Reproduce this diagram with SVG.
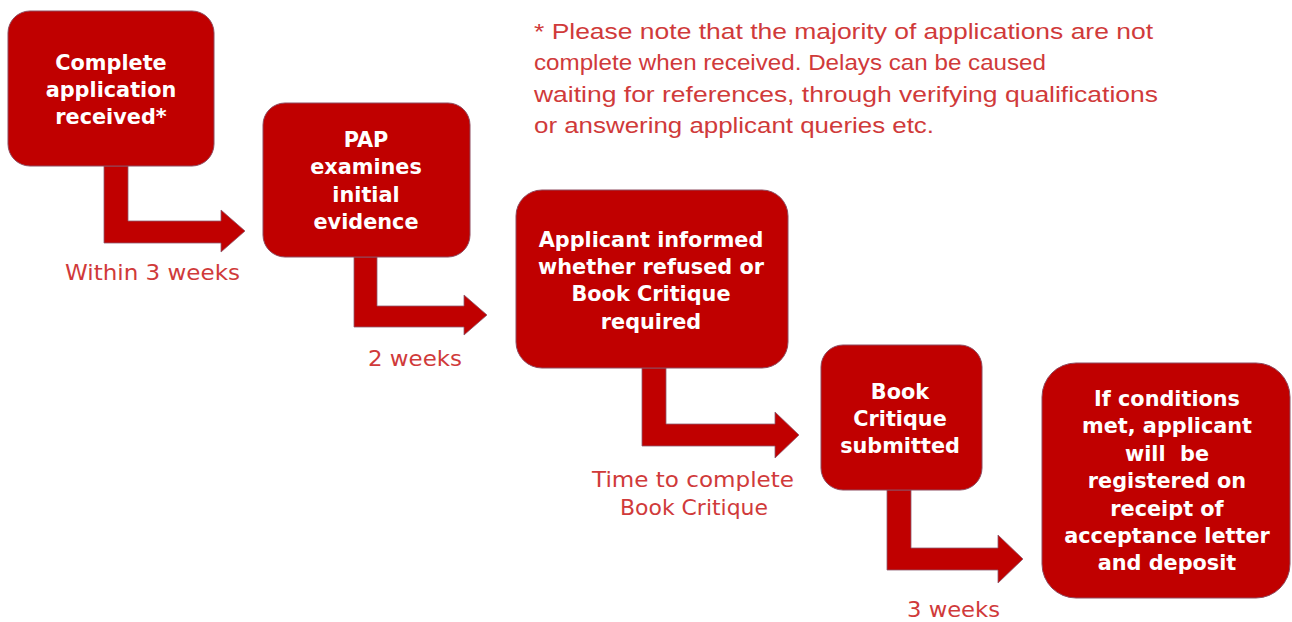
<svg xmlns="http://www.w3.org/2000/svg" width="1292" height="622" viewBox="0 0 1292 622">
<style>
.box{fill:#c00000;stroke:#8e4a5e;stroke-width:1}
.arr{fill:#c00000;stroke:#8e5a6e;stroke-width:0.8}
.bt{font-family:"DejaVu Sans",sans-serif;font-weight:bold;font-size:20.8px;fill:#ffffff;text-anchor:middle;white-space:pre}
.lbl{font-family:"DejaVu Sans",sans-serif;font-size:22px;fill:#d03a3a}
.note{font-family:"Liberation Sans",Arial,sans-serif;font-size:22px;fill:#d03a3a}
</style>
<rect width="1292" height="622" fill="#ffffff"/>
<g id="connectors">
<polygon class="arr" points="104,166 128,166 128,221 221,221 221,210 245,231 221,252 221,243 104,243"/>
<polygon class="arr" points="354,257 377,257 377,306 464,306 464,295 487,315 464,335 464,327 354,327"/>
<polygon class="arr" points="642,368 666,368 666,424 775,424 775,412 799,435 775,458 775,446 642,446"/>
<polygon class="arr" points="887,490 911,490 911,548 998,548 998,535 1023,559 998,583 998,570 887,570"/>
</g>
<g id="node1">
<rect class="box" x="8" y="11" width="206" height="155" rx="22"/>
<text class="bt" x="111" y="70">Complete</text>
<text class="bt" x="111" y="97">application</text>
<text class="bt" x="111" y="124">received*</text>
</g>
<g id="node2">
<rect class="box" x="263" y="103" width="207" height="154" rx="22"/>
<text class="bt" x="366" y="147">PAP</text>
<text class="bt" x="366" y="174">examines</text>
<text class="bt" x="366" y="202">initial</text>
<text class="bt" x="366" y="229">evidence</text>
</g>
<g id="node3">
<rect class="box" x="516" y="190" width="272" height="178" rx="26"/>
<text class="bt" x="651" y="247">Applicant informed</text>
<text class="bt" x="651" y="274">whether refused or</text>
<text class="bt" x="651" y="301">Book Critique</text>
<text class="bt" x="651" y="329">required</text>
</g>
<g id="node4">
<rect class="box" x="821" y="345" width="161" height="145" rx="22"/>
<text class="bt" x="900" y="399">Book</text>
<text class="bt" x="900" y="426">Critique</text>
<text class="bt" x="900" y="453">submitted</text>
</g>
<g id="node5">
<rect class="box" x="1042" y="363" width="248" height="235" rx="34"/>
<text class="bt" x="1167" y="406">If conditions</text>
<text class="bt" x="1167" y="433">met, applicant</text>
<text class="bt" x="1167" y="461">will  be</text>
<text class="bt" x="1167" y="488">registered on</text>
<text class="bt" x="1167" y="516">receipt of</text>
<text class="bt" x="1167" y="543">acceptance letter</text>
<text class="bt" x="1167" y="570">and deposit</text>
</g>
<g id="labels">
<text class="lbl" x="65" y="280" textLength="175" lengthAdjust="spacingAndGlyphs">Within 3 weeks</text>
<text class="lbl" x="368" y="366" textLength="94" lengthAdjust="spacingAndGlyphs">2 weeks</text>
<text class="lbl" x="592" y="487" textLength="202" lengthAdjust="spacingAndGlyphs">Time to complete</text>
<text class="lbl" x="620" y="515" textLength="148" lengthAdjust="spacingAndGlyphs">Book Critique</text>
<text class="lbl" x="907" y="617" textLength="93" lengthAdjust="spacingAndGlyphs">3 weeks</text>
</g>
<g id="note">
<text class="note" x="534" y="39" textLength="619" lengthAdjust="spacingAndGlyphs">* Please note that the majority of applications are not</text>
<text class="note" x="534" y="70" textLength="512" lengthAdjust="spacingAndGlyphs">complete when received. Delays can be caused</text>
<text class="note" x="534" y="102" textLength="624" lengthAdjust="spacingAndGlyphs">waiting for references, through verifying qualifications</text>
<text class="note" x="534" y="133" textLength="400" lengthAdjust="spacingAndGlyphs">or answering applicant queries etc.</text>
</g>
</svg>
